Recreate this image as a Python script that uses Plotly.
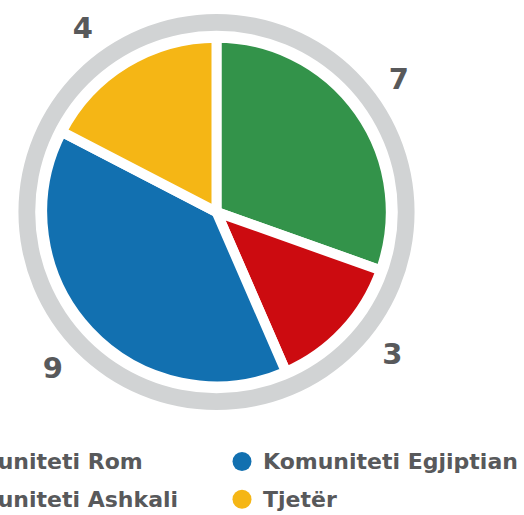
import plotly.graph_objects as go

# ---- data ----
categories = ["Komuniteti Rom", "Komuniteti Ashkali", "Komuniteti Egjiptian", "Tjetër"]
values = [7, 3, 9, 4]
colors = ["#33934a", "#cc0b10", "#1270b0", "#f5b615"]
ring_color = "#d1d3d4"
text_color = "#58595b"
FONT = "DejaVu Sans"

# ---- layout constants (pixels) ----
W, H = 524, 515
CX, CY = 216.5, 209          # pie centre, from top-left
R_PIE = 176
R_RING_OUT = 200
R_RING_IN = 183
R_LABEL = 209

LEG_X0, LEG_COLW = -78, 320
LEG_Y0, LEG_ROWH = 461, 38
LEG_TEXT_GAP = 18.5


def dom(r):
    return dict(
        x=[max(0, (CX - r) / W), min(1, (CX + r) / W)],
        y=[max(0, (H - CY - r) / H), min(1, (H - CY + r) / H)],
    )


fig = go.Figure()

# grey ring
fig.add_trace(go.Pie(
    values=[1], labels=["ring"], hole=R_RING_IN / R_RING_OUT,
    marker=dict(colors=[ring_color], line=dict(width=0)),
    textinfo="none", hoverinfo="skip", showlegend=False, sort=False,
    domain=dom(R_RING_OUT),
))

# main pie
fig.add_trace(go.Pie(
    values=values, labels=categories, sort=False, direction="clockwise", rotation=0,
    marker=dict(colors=colors, line=dict(color="white", width=10)),
    textinfo="none", hoverinfo="label+value", showlegend=False,
    domain=dom(R_PIE),
))

# value labels (transparent pie, text outside)
fig.add_trace(go.Pie(
    values=values, labels=categories, sort=False, direction="clockwise", rotation=-2.5,
    marker=dict(colors=["rgba(0,0,0,0)"] * len(values), line=dict(width=0)),
    textinfo="value", textposition="outside",
    outsidetextfont=dict(family=FONT, size=29, color=text_color, weight="bold"),
    hoverinfo="skip", showlegend=False,
    domain=dom(R_LABEL),
))

# legend: circle markers (scatter) + text (annotations)
leg_x = [LEG_X0 + (i // 2) * LEG_COLW for i in range(len(categories))]
leg_y = [LEG_Y0 + (i % 2) * LEG_ROWH for i in range(len(categories))]
fig.add_trace(go.Scatter(
    x=leg_x, y=leg_y, mode="markers",
    marker=dict(size=19, color=colors, line=dict(width=0)),
    cliponaxis=False, hoverinfo="skip", showlegend=False,
))
for name, x, y in zip(categories, leg_x, leg_y):
    fig.add_annotation(
        x=(x + LEG_TEXT_GAP) / W, y=1 - y / H, xref="paper", yref="paper",
        text=name, showarrow=False, xanchor="left", yanchor="middle",
        font=dict(family=FONT, size=22, color=text_color, weight="bold"),
    )

fig.update_layout(
    width=W, height=H,
    margin=dict(l=0, r=0, t=0, b=0),
    paper_bgcolor="white", plot_bgcolor="rgba(0,0,0,0)",
    showlegend=False,
    xaxis=dict(visible=False, range=[0, W], domain=[0, 1], fixedrange=True),
    yaxis=dict(visible=False, range=[H, 0], domain=[0, 1], fixedrange=True),
    font=dict(family=FONT, color=text_color),
)

fig.write_html(
    "out.html",
    config={"displayModeBar": False},
    post_script="document.body.style.margin='0';document.body.style.overflow='hidden';",
)
